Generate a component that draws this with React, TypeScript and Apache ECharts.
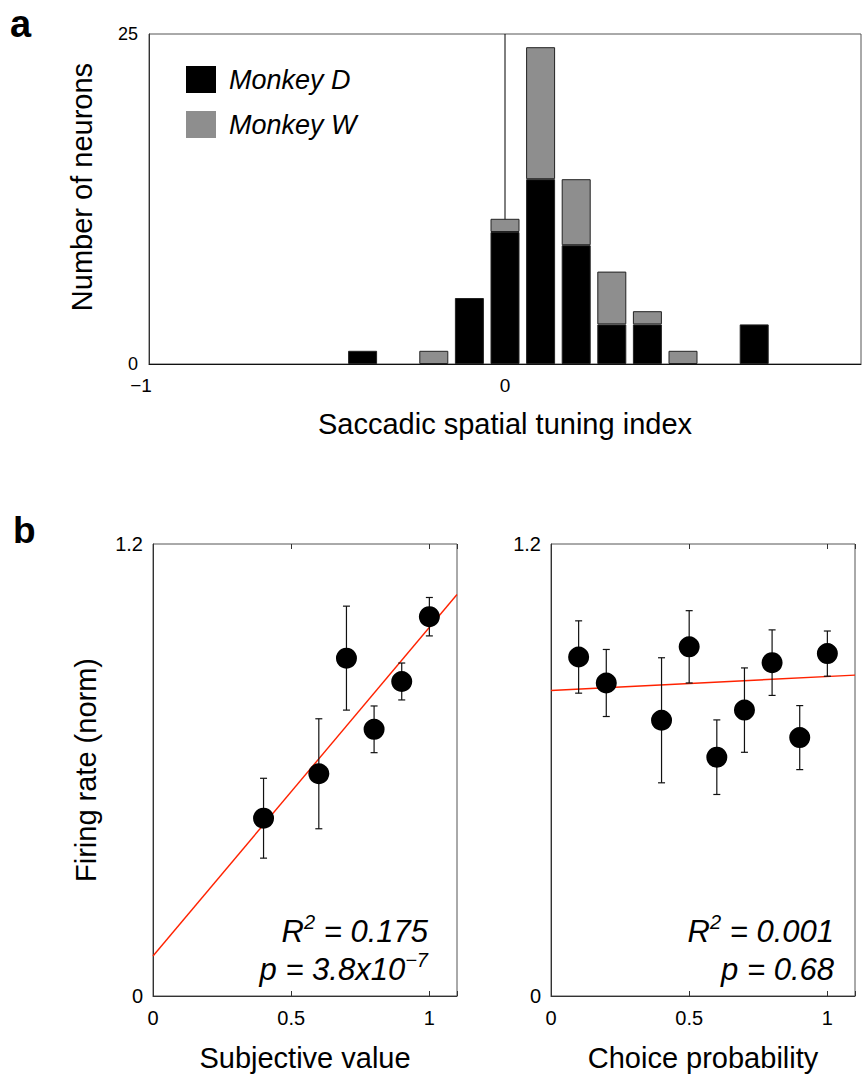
import React, { useEffect, useRef } from "react";
import * as echarts from "echarts";

// ---- Panel a: histogram (bins of 0.1 from -1 to 1) ----
const binLabels = ["-1", "-0.9", "-0.8", "-0.7", "-0.6", "-0.5", "-0.4", "-0.3", "-0.2", "-0.1", "0",
  "0.1", "0.2", "0.3", "0.4", "0.5", "0.6", "0.7", "0.8", "0.9", "1"];
const monkeyD = [0, 0, 0, 0, 0, 0, 1, 0, 0, 5, 10, 14, 9, 3, 3, 0, 0, 3, 0, 0, 0];
const monkeyW = [0, 0, 0, 0, 0, 0, 0, 0, 1, 0, 1, 10, 5, 4, 1, 1, 0, 0, 0, 0, 0];
const shownBinLabels = ["-1", "0"];
const zeroLine = [["0", 0], ["0", 25]];

// ---- Panel b left: subjective value ----
const svX = [0.4, 0.6, 0.7, 0.8, 0.9, 1.0];
const svY = [0.472, 0.59, 0.897, 0.708, 0.835, 1.007];
const svErr = [0.106, 0.146, 0.138, 0.062, 0.049, 0.051];
const svFit = [[0, 0.106], [1.1, 1.066]];

// ---- Panel b right: choice probability ----
const cpX = [0.1, 0.2, 0.4, 0.5, 0.6, 0.7, 0.8, 0.9, 1.0];
const cpY = [0.9, 0.831, 0.732, 0.927, 0.634, 0.759, 0.885, 0.686, 0.909];
const cpErr = [0.096, 0.089, 0.166, 0.096, 0.099, 0.112, 0.087, 0.085, 0.06];
const cpFit = [[0, 0.811], [1.1, 0.852]];

const FONT = "Liberation Sans";
const AXIS_COLOR = "#333";

export default function App() {
  const ref = useRef<HTMLDivElement>(null);

  useEffect(() => {
    if (!ref.current) return;
    const chart = echarts.init(ref.current, null, { renderer: "svg" });

    const errRender = (params: any, api: any) => {
      const x = api.value(0);
      const lo = api.value(1);
      const hi = api.value(2);
      const top = api.coord([x, hi]);
      const bot = api.coord([x, lo]);
      const cap = 3.5;
      const st = { stroke: "#111", lineWidth: 1.2 };
      return {
        type: "group",
        children: [
          { type: "line", shape: { x1: top[0], y1: top[1], x2: bot[0], y2: bot[1] }, style: st },
          { type: "line", shape: { x1: top[0] - cap, y1: top[1], x2: top[0] + cap, y2: top[1] }, style: st },
          { type: "line", shape: { x1: bot[0] - cap, y1: bot[1], x2: bot[0] + cap, y2: bot[1] }, style: st },
        ],
      };
    };

    const svErrData = svX.map((x, i) => [x, svY[i] - svErr[i], svY[i] + svErr[i]]);
    const cpErrData = cpX.map((x, i) => [x, cpY[i] - cpErr[i], cpY[i] + cpErr[i]]);

    const tickLabel = { color: "#000", fontFamily: FONT, fontSize: 20 };
    const nameStyle = { color: "#000", fontFamily: FONT, fontSize: 29 };

    const bXAxis = (gridIndex: number, name: string) => ({
      type: "value",
      gridIndex,
      min: 0,
      max: 1.1,
      interval: 0.5,
      position: "bottom",
      name,
      nameLocation: "middle",
      nameGap: 47,
      nameTextStyle: nameStyle,
      axisLine: { show: true, lineStyle: { color: AXIS_COLOR, width: 1 } },
      axisTick: { show: true, inside: true, length: 5, lineStyle: { color: AXIS_COLOR } },
      axisLabel: {
        ...tickLabel,
        margin: 12,
        formatter: (v: number) => (v > 1.05 ? "" : String(v)),
      },
      splitLine: { show: false },
    });
    const bXTop = (gridIndex: number) => ({
      type: "value",
      gridIndex,
      min: 0,
      max: 1.1,
      interval: 0.5,
      position: "top",
      axisLine: { show: false },
      axisTick: { show: true, inside: true, length: 5, lineStyle: { color: AXIS_COLOR } },
      axisLabel: { show: false },
      splitLine: { show: false },
    });
    const bYAxis = (gridIndex: number, name: string) => ({
      type: "value",
      gridIndex,
      min: 0,
      max: 1.2,
      interval: 1.2,
      name,
      nameLocation: "middle",
      nameGap: 53,
      nameTextStyle: nameStyle,
      axisLine: { show: true, lineStyle: { color: AXIS_COLOR, width: 1 } },
      axisTick: { show: false },
      axisLabel: { ...tickLabel, margin: 10 },
      splitLine: { show: false },
    });

    const annot = (x: number, r2: string, p: string, pSup: string) => ({
      type: "text",
      x,
      y: 950,
      style: {
        text: `{m|R}{s|2}{m| = ${r2}}\n{m|p = ${p}}` + (pSup ? `{s|${pSup}}` : ""),
        align: "right",
        verticalAlign: "middle",
        fill: "#000",
        rich: {
          m: { fontFamily: FONT, fontStyle: "italic", fontSize: 31, lineHeight: 38, verticalAlign: "middle", fill: "#000" },
          s: { fontFamily: FONT, fontStyle: "italic", fontSize: 20, lineHeight: 24, verticalAlign: "top", fill: "#000" },
        },
      },
    });

    const nz = (v: number) => (v === 0 ? "-" : v);

    const option: any = {
      animation: false,
      backgroundColor: "#fff",
      title: [
        { text: "a", left: 5, top: 0, textStyle: { fontFamily: FONT, fontSize: 38, fontWeight: "bold", color: "#000" } },
        { text: "b", left: 8, top: 507, textStyle: { fontFamily: FONT, fontSize: 37, fontWeight: "bold", color: "#000" } },
      ],
      legend: {
        data: ["Monkey D", "Monkey W"],
        orient: "vertical",
        left: 181,
        top: 61,
        itemWidth: 30,
        itemHeight: 27,
        itemGap: 18,
        icon: "rect",
        itemStyle: { borderWidth: 0 },
        textStyle: { fontFamily: FONT, fontSize: 27, fontStyle: "italic", color: "#000", padding: [0, 0, 0, 8] },
      },
      grid: [
        { left: 149, top: 34, width: 720, height: 330, show: true, borderColor: "#555", borderWidth: 1, backgroundColor: "transparent" },
        { left: 153, top: 544, width: 304, height: 452, show: true, borderColor: "#555", borderWidth: 1, backgroundColor: "transparent" },
        { left: 551, top: 544, width: 304, height: 452, show: true, borderColor: "#555", borderWidth: 1, backgroundColor: "transparent" },
      ],
      xAxis: [
        {
          type: "category",
          gridIndex: 0,
          data: binLabels,
          boundaryGap: false,
          name: "Saccadic spatial tuning index",
          nameLocation: "middle",
          nameGap: 45,
          nameTextStyle: { ...nameStyle, padding: [0, 0, 0, 0] },
          axisLine: { show: true, lineStyle: { color: "#111", width: 1 } },
          axisTick: { show: false },
          axisLabel: {
            color: "#000",
            fontFamily: FONT,
            fontSize: 19,
            margin: 12,
            interval: 0,
            formatter: (v: string) =>
              shownBinLabels.includes(v) ? (v.startsWith("-") ? `{l|${v.replace("-", "\u2212")}}` : v) : "",
            rich: {
              l: { fontFamily: FONT, fontSize: 19, color: "#000", padding: [0, 16, 0, 0] },
            },
          },
          splitLine: { show: false },
        },
        bXAxis(1, "Subjective value"),
        bXAxis(2, "Choice probability"),
        bXTop(1),
        bXTop(2),
      ],
      yAxis: [
        {
          type: "value",
          gridIndex: 0,
          min: 0,
          max: 25,
          interval: 25,
          name: "Number of neurons",
          nameLocation: "middle",
          nameGap: 53,
          nameTextStyle: { ...nameStyle, padding: [0, 0, 0, 24] },
          axisLine: { show: true, lineStyle: { color: AXIS_COLOR, width: 1 } },
          axisTick: { show: false },
          axisLabel: { color: "#000", fontFamily: FONT, fontSize: 18, margin: 11 },
          splitLine: { show: false },
        },
        bYAxis(1, "Firing rate (norm)"),
        bYAxis(2, ""),
      ],
      series: [
        {
          type: "line",
          xAxisIndex: 0,
          yAxisIndex: 0,
          data: zeroLine,
          symbol: "none",
          lineStyle: { color: "#000", width: 1 },
          z: 1,
          silent: true,
        },
        {
          name: "Monkey D",
          type: "bar",
          xAxisIndex: 0,
          yAxisIndex: 0,
          stack: "hist",
          barWidth: 29,
          data: monkeyD.map(nz),
          itemStyle: { color: "#000", borderColor: "#222", borderWidth: 1 },
          z: 3,
        },
        {
          name: "Monkey W",
          type: "bar",
          xAxisIndex: 0,
          yAxisIndex: 0,
          stack: "hist",
          barWidth: 29,
          data: monkeyW.map(nz),
          itemStyle: { color: "#8e8e8e", borderColor: "#222", borderWidth: 1 },
          z: 3,
        },
        {
          type: "line",
          xAxisIndex: 1,
          yAxisIndex: 1,
          data: svFit,
          symbol: "none",
          lineStyle: { color: "#ff2200", width: 1.4 },
          z: 1,
        },
        {
          type: "custom",
          xAxisIndex: 1,
          yAxisIndex: 1,
          data: svErrData,
          encode: { x: 0, y: [1, 2] },
          renderItem: errRender,
          z: 2,
        },
        {
          type: "scatter",
          xAxisIndex: 1,
          yAxisIndex: 1,
          data: svX.map((x, i) => [x, svY[i]]),
          symbol: "circle",
          symbolSize: 21,
          itemStyle: { color: "#000", opacity: 1 },
          z: 3,
        },
        {
          type: "line",
          xAxisIndex: 2,
          yAxisIndex: 2,
          data: cpFit,
          symbol: "none",
          lineStyle: { color: "#ff2200", width: 1.4 },
          z: 1,
        },
        {
          type: "custom",
          xAxisIndex: 2,
          yAxisIndex: 2,
          data: cpErrData,
          encode: { x: 0, y: [1, 2] },
          renderItem: errRender,
          z: 2,
        },
        {
          type: "scatter",
          xAxisIndex: 2,
          yAxisIndex: 2,
          data: cpX.map((x, i) => [x, cpY[i]]),
          symbol: "circle",
          symbolSize: 21,
          itemStyle: { color: "#000", opacity: 1 },
          z: 3,
        },
      ],
      graphic: [annot(428, "0.175", "3.8x10", "\u22127"), annot(834, "0.001", "0.68", "")],
    };

    chart.setOption(option);
    return () => chart.dispose();
  }, []);

  return (
    <div
      ref={ref}
      style={{ position: "absolute", left: 0, top: 0, width: 864, height: 1078, background: "#fff" }}
    />
  );
}
